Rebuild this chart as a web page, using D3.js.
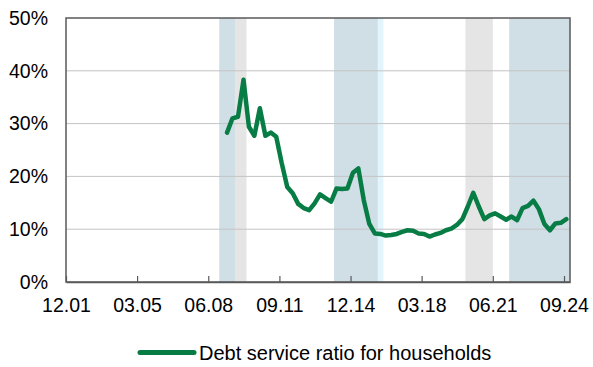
<!DOCTYPE html>
<html>
<head>
<meta charset="utf-8">
<script src="https://cdn.jsdelivr.net/npm/d3@7"></script>
<style>
  body { margin: 0; background: #fff; }
  svg { display: block; font-family: "Liberation Sans", Arial, sans-serif; }
</style>
</head>
<body>
<div id="chart"></div>
<script>
"use strict";

// quarterly debt service ratio, first observation Q2 2009
const firstObs = new Date(2009, 3, 10);
const dsrValues = [
  28.3, 31.0, 31.3, 38.3, 29.4, 27.7, 32.9, 27.7, 28.3, 27.5,
  22.5, 18.0, 16.8, 14.8, 14.0, 13.6, 14.9, 16.6, 15.9, 15.2,
  17.7, 17.6, 17.7, 20.7, 21.5, 15.5, 11.0, 9.2, 9.1, 8.8,
  8.9, 9.1, 9.5, 9.8, 9.7, 9.2, 9.1, 8.6, 9.0, 9.3,
  9.8, 10.1, 10.8, 11.9, 14.3, 16.9, 14.3, 11.9, 12.6, 13.0,
  12.4, 11.8, 12.4, 11.7, 14.0, 14.4, 15.4, 13.8, 11.0, 9.8,
  11.1, 11.2, 11.9
];

// x tick labels (month.year)
const tickDates = [
  new Date(2001, 11, 1), new Date(2005, 2, 1), new Date(2008, 5, 1), new Date(2011, 8, 1),
  new Date(2014, 11, 1), new Date(2018, 2, 1), new Date(2021, 5, 1), new Date(2024, 8, 1)
];
const yTicks = [0, 10, 20, 30, 40, 50];

// shaded periods
const bandStarts = [new Date(2008, 11, 1), new Date(2009, 8, 1), new Date(2014, 2, 1), new Date(2016, 2, 1), new Date(2020, 2, 1), new Date(2022, 2, 1)];
const bandEnds   = [new Date(2009, 8, 1), new Date(2010, 2, 1), new Date(2016, 2, 1), new Date(2016, 5, 1), new Date(2021, 5, 1), new Date(2024, 11, 10)];
const bandKinds  = ["blue", "grey", "blue", "light", "grey", "blue"];

const seriesName = "Debt service ratio for households";

const W = 593, H = 367;
const margin = {left: 66, right: 23, top: 18, bottom: 85};
const bandColor = {blue: "#d0dee6", grey: "#e5e5e5", light: "#e3f5fc"};
const lineColor = "#087c45";
const fontSize = 19.5;

const data = dsrValues.map((v, k) => ({date: d3.timeMonth.offset(firstObs, 3 * k), value: v}));

const svg = d3.select("#chart").append("svg").attr("width", W).attr("height", H);

const x = d3.scaleTime()
  .domain([new Date(2001, 11, 1), new Date(2024, 11, 10)])
  .range([margin.left, W - margin.right]);
const y = d3.scaleLinear()
  .domain([0, 50])
  .range([H - margin.bottom, margin.top]);

// bands
svg.append("g").selectAll("rect")
  .data(bandStarts.map((s, i) => ({s: s, e: bandEnds[i], k: bandKinds[i]})))
  .enter().append("rect")
  .attr("x", d => x(d.s))
  .attr("width", d => x(d.e) - x(d.s))
  .attr("y", y(50))
  .attr("height", y(0) - y(50))
  .attr("fill", d => bandColor[d.k]);

// gridlines
svg.append("g").selectAll("line")
  .data(yTicks.filter(t => t > 0 && t < 50))
  .enter().append("line")
  .attr("x1", x.range()[0]).attr("x2", x.range()[1])
  .attr("y1", d => y(d)).attr("y2", d => y(d))
  .attr("stroke", "#c4c4c4").attr("stroke-width", 1);

// series line
svg.append("path")
  .datum(data)
  .attr("fill", "none")
  .attr("stroke", lineColor)
  .attr("stroke-width", 4.5)
  .attr("stroke-linejoin", "round")
  .attr("stroke-linecap", "round")
  .attr("d", d3.line().x(d => x(d.date)).y(d => y(d.value)));

// frame
svg.append("rect")
  .attr("x", x.range()[0]).attr("y", y(50))
  .attr("width", x.range()[1] - x.range()[0])
  .attr("height", y(0) - y(50))
  .attr("fill", "none").attr("stroke", "#595959").attr("stroke-width", 1.5);

// x axis: ticks point inward
const xAxis = d3.axisBottom(x)
  .tickValues(tickDates)
  .tickFormat(d3.timeFormat("%m.%y"))
  .tickSizeInner(-6).tickSizeOuter(0).tickPadding(16);
const gx = svg.append("g").attr("transform", `translate(0,${y(0)})`).call(xAxis);
gx.select(".domain").attr("stroke", "#595959").attr("stroke-width", 1.5);
gx.selectAll(".tick line").attr("stroke", "#595959").attr("stroke-width", 1.2);
gx.selectAll(".tick text").attr("font-size", fontSize).attr("fill", "#000").attr("font-family", "Liberation Sans, Arial, sans-serif");

// y axis labels
const yAxis = d3.axisLeft(y).tickValues(yTicks).tickFormat(d => d + "%").tickSize(0).tickPadding(18);
const gy = svg.append("g").attr("transform", `translate(${x.range()[0]},0)`).call(yAxis);
gy.select(".domain").remove();
gy.selectAll(".tick text").attr("font-size", fontSize).attr("fill", "#000").attr("font-family", "Liberation Sans, Arial, sans-serif");

// legend
const lg = svg.append("g").attr("transform", "translate(140,352.5)");
lg.append("line").attr("x1", 0).attr("x2", 54).attr("y1", 0).attr("y2", 0)
  .attr("stroke", lineColor).attr("stroke-width", 5).attr("stroke-linecap", "round");
lg.append("text").attr("x", 59).attr("y", 7)
  .attr("font-size", 20).attr("fill", "#000").text(seriesName);
</script>
</body>
</html>
